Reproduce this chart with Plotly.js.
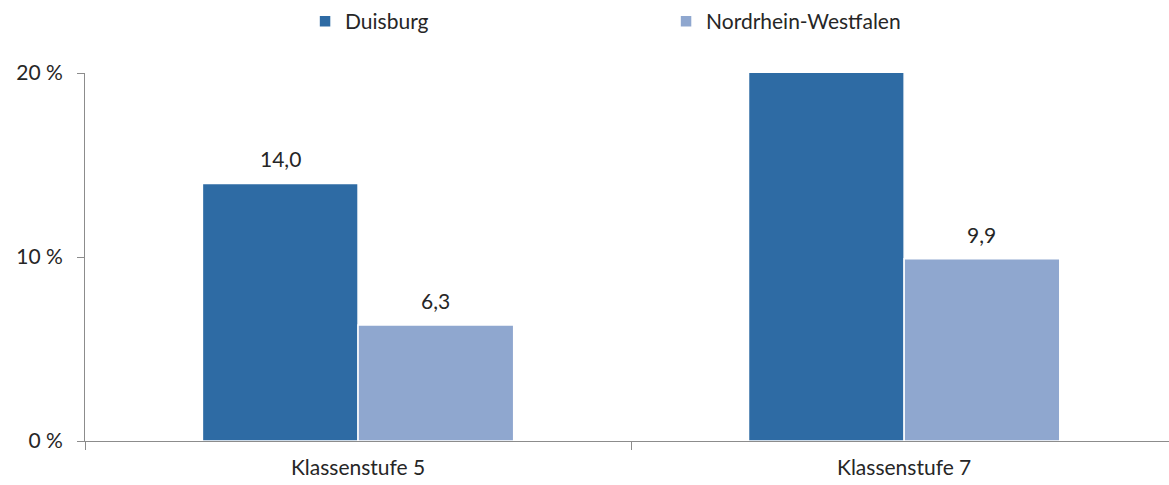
<!DOCTYPE html>
<html>
<head>
<meta charset="utf-8">
<script src="https://cdn.plot.ly/plotly-3.0.1.min.js"></script>
<style>html,body{margin:0;padding:0;background:#fff;}#chart{width:1169px;height:485px;}</style>
</head>
<body>
<div id="chart"></div>
<script>
const categories = ["Klassenstufe 5", "Klassenstufe 7"];
const duisburg = [14.0, 21.0];
const nrw = [6.3, 9.9];
const seriesNames = ["Duisburg", "Nordrhein-Westfalen"];
const yTickVals = [0, 10, 20];
const yTickText = ["0 %", "10 %", "20 %"];
const yMax = 20;

const fmt = v => v.toFixed(1).replace(".", ",");
const FONT = "Lato, 'Open Sans', sans-serif";
const TXT = "#262626";
const BARGAP = 0.43;
const half = (1 - BARGAP) / 4;  // center offset of each bar within a group

const traces = [
  {type: "bar", name: seriesNames[0], x: categories, y: duisburg,
   marker: {color: "#2E6BA4", line: {color: "#ffffff", width: 1.5}}, hoverinfo: "none"},
  {type: "bar", name: seriesNames[1], x: categories, y: nrw,
   marker: {color: "#8FA7CF", line: {color: "#ffffff", width: 1.5}}, hoverinfo: "none"}
];

const annotations = [];
[duisburg, nrw].forEach((arr, s) => {
  arr.forEach((v, i) => {
    if (v > yMax) return;  // bar clipped by axis: no label
    annotations.push({x: i + (s === 0 ? -half : half), xref: "x", y: v, yref: "y",
      text: fmt(v), showarrow: false, yanchor: "bottom", yshift: 10,
      font: {family: FONT, size: 21, color: TXT}});
  });
});

const layout = {
  width: 1169, height: 485,
  margin: {l: 85, r: 0, t: 73, b: 44, pad: 0, autoexpand: false},
  paper_bgcolor: "#fff", plot_bgcolor: "#fff",
  font: {family: FONT, size: 21, color: TXT},
  barmode: "group", bargap: BARGAP, bargroupgap: 0,
  showlegend: true,
  annotations: annotations,
  legend: {orientation: "h", x: 0.203, xanchor: "left", y: 1.14, yanchor: "middle",
           entrywidth: 316, entrywidthmode: "pixels", font: {family: FONT, size: 21, color: TXT},
           itemwidth: 30, traceorder: "normal"},
  xaxis: {type: "category", range: [-0.5, 1.485], showline: true, linecolor: "#8c8c8c", linewidth: 1,
          ticks: "outside", tickson: "boundaries", ticklen: 8, tickcolor: "#8c8c8c", ticklabelstandoff: 8,
          showgrid: false, zeroline: false, tickfont: {family: FONT, size: 21, color: TXT}},
  yaxis: {range: [0, yMax], tickvals: yTickVals, ticktext: yTickText, showline: true, linecolor: "#8c8c8c",
          linewidth: 1, ticks: "outside", ticklen: 7, tickcolor: "#8c8c8c", ticklabelstandoff: 10,
          showgrid: false, zeroline: false,
          tickfont: {family: FONT, size: 21, color: TXT}}
};

Plotly.newPlot("chart", traces, layout, {staticPlot: true, displayModeBar: false});
</script>
</body>
</html>
